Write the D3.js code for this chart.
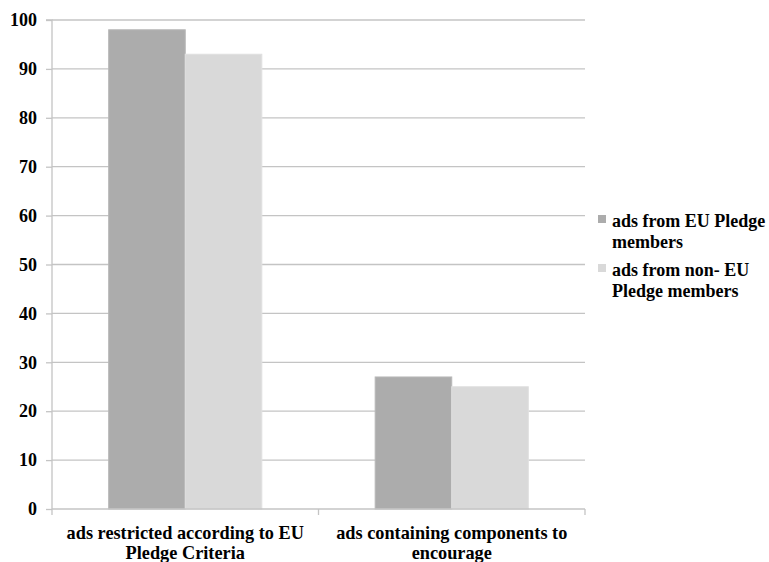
<!DOCTYPE html>
<html><head><meta charset="utf-8">
<script src="https://cdn.jsdelivr.net/npm/d3@7"></script>
<style>body{margin:0;background:#fff}svg{display:block}
svg text{font-family:"Liberation Serif","Times New Roman",Times,serif;font-weight:bold;fill:#000}</style>
</head><body>
<svg id="c" width="769" height="562"></svg>
<script>
const categories = [["ads restricted according to EU","Pledge Criteria"],["ads containing components to","encourage"]];
const seriesNames = [["ads from EU Pledge","members"],["ads from non- EU","Pledge members"]];
const euMembers = [98, 27];
const nonEuMembers = [93, 25];
const yTicks = [0,10,20,30,40,50,60,70,80,90,100];
const colors = ["#acacac","#d9d9d9"];

const svg = d3.select("#c");
const m = {l:52, r:585, t:20, b:509};
const x0 = d3.scaleBand().domain([0,1]).range([m.l, m.r]).paddingInner(0).paddingOuter(0);
const x1 = d3.scaleBand().domain([0,1]).range([0, x0.bandwidth()]).paddingInner(0).paddingOuter(0.74);
const y = d3.scaleLinear().domain([0,100]).range([m.b, m.t]);

svg.append("g").selectAll("line").data(yTicks.filter(d=>d>0)).join("line")
  .attr("x1", m.l).attr("x2", m.r).attr("y1", d=>y(d)).attr("y2", d=>y(d))
  .attr("stroke","#c4c4c4").attr("stroke-width",1.3);

const data = [euMembers, nonEuMembers];
const g = svg.append("g");
categories.forEach((c,i)=>{
  data.forEach((s,j)=>{
    g.append("rect").attr("x", x0(i)+x1(j)).attr("y", y(s[i]))
     .attr("width", x1.bandwidth()).attr("height", y(0)-y(s[i]))
     .attr("fill", colors[j]).attr("stroke", j===0?"#b8b8b8":"#e0e0e0").attr("stroke-width",1);
  });
});

const ya = svg.append("g").attr("transform",`translate(${m.l},0)`)
  .call(d3.axisLeft(y).tickValues(yTicks).tickSize(6).tickPadding(9));
ya.attr("font-family",null);
ya.select(".domain").attr("stroke","#c4c4c4").attr("stroke-width",1.3).attr("d",`M-6,${m.t}H0V${m.b}`);
ya.selectAll(".tick line").attr("stroke","#c4c4c4").attr("stroke-width",1.3);
ya.selectAll("text").attr("font-size",18).attr("fill","#000");

svg.append("line").attr("x1",m.l).attr("x2",m.r).attr("y1",m.b).attr("y2",m.b).attr("stroke","#c4c4c4").attr("stroke-width",1.3);
[m.l, x0(1), m.r].forEach(v=>{
  svg.append("line").attr("x1",v).attr("x2",v).attr("y1",m.b).attr("y2",m.b+6).attr("stroke","#c4c4c4").attr("stroke-width",1.3);
});
categories.forEach((c,i)=>{
  const cx = x0(i)+x0.bandwidth()/2;
  const t = svg.append("text").attr("x", cx).attr("y", 539)
    .attr("text-anchor","middle").attr("font-size",18.3);
  c.forEach((line,k)=>t.append("tspan").attr("x", cx).attr("dy", k===0?0:20).text(line));
});

seriesNames.forEach((s,j)=>{
  const yy = 227 + j*49;
  svg.append("rect").attr("x",598).attr("y",yy-12).attr("width",8).attr("height",8).attr("fill",colors[j]);
  const t = svg.append("text").attr("x",612).attr("y",yy).attr("font-size",18);
  s.forEach((line,k)=>t.append("tspan").attr("x",612).attr("dy",k===0?0:21).text(line));
});
</script>
</body></html>
